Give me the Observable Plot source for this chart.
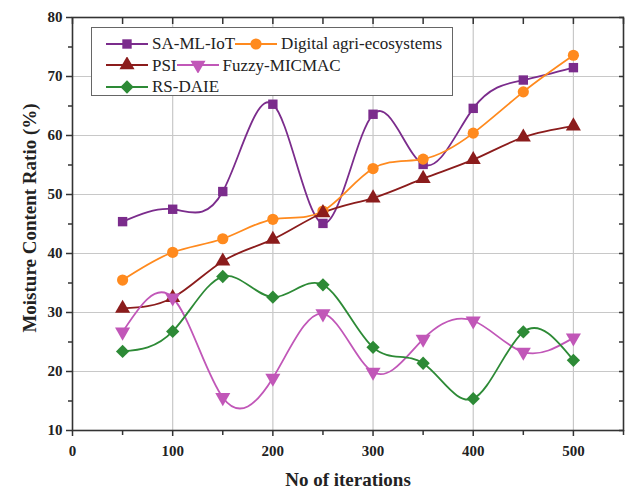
<!DOCTYPE html>
<html>
<head>
<meta charset="utf-8">
<script src="https://cdn.jsdelivr.net/npm/d3@7"></script>
<script src="https://cdn.jsdelivr.net/npm/@observablehq/plot@0.6"></script>
<style>
  body { margin: 0; background: #fff; }
  #wrap { position: relative; width: 633px; height: 490px; }
  #legend {
    position: absolute; left: 91px; top: 27px; width: 362px; height: 69px;
    border: 1px solid #666; background: #fff; box-sizing: border-box;
    font-family: "Liberation Serif", "Times New Roman", serif; font-size: 17px; color: #222;
    padding: 5px 0 0 14px;
  }
  .row { display: flex; align-items: center; height: 21.5px; white-space: nowrap; }
  .row svg { display: block; flex: none; }
  .row span { margin-left: 4px; line-height: 1; }
</style>
</head>
<body>
<div id="wrap"><div id="chart"></div><div id="legend"></div></div>
<script>
const iterations = [50, 100, 150, 200, 250, 300, 350, 400, 450, 500];
const seriesNames = ["SA-ML-IoT", "Digital agri-ecosystems", "PSI", "Fuzzy-MICMAC", "RS-DAIE"];
const saMlIot   = [45.4, 47.5, 50.5, 65.3, 45.1, 63.6, 55.1, 64.6, 69.4, 71.5];
const digital   = [35.5, 40.2, 42.5, 45.8, 47.2, 54.4, 56.0, 60.4, 67.4, 73.6];
const psi       = [30.7, 32.5, 38.7, 42.4, 46.9, 49.4, 52.7, 55.9, 59.7, 61.6];
const fuzzy     = [26.7, 32.5, 15.6, 18.9, 29.8, 19.9, 25.5, 28.6, 23.3, 25.7];
const rsDaie    = [23.4, 26.8, 36.1, 32.6, 34.7, 24.1, 21.4, 15.4, 26.7, 21.9];
const xTicks = [0, 100, 200, 300, 400, 500];
const yTicks = [10, 20, 30, 40, 50, 60, 70, 80];

const values = [saMlIot, digital, psi, fuzzy, rsDaie];
const colors = ["#7b2c8c", "#ff8a1e", "#8b1c1c", "#c157b8", "#2d8a36"];
const symbols = ["square", "circle", "triangle", "triangle", "square"];
const rotations = [0, 0, 0, 180, 45];
const radii = [5.3, 5.6, 5.6, 5.6, 5.3];

const data = [];
seriesNames.forEach((s, i) => iterations.forEach((x, j) => data.push({series: s, idx: i, x, y: values[i][j]})));

const font = "'Liberation Serif', 'Times New Roman', serif";

const marks = [
  Plot.gridX(xTicks.slice(1), {stroke: "#c8c8c8", strokeOpacity: 1, strokeWidth: 1.2}),
  Plot.gridY(yTicks.slice(1, -1), {stroke: "#c8c8c8", strokeOpacity: 1, strokeWidth: 1.2}),
  Plot.axisX(xTicks, {tickSize: 6, tickPadding: 9, fontSize: 15, fontWeight: "bold", label: null, stroke: "#333", strokeWidth: 1.5, fill: "#222"}),
  Plot.axisX(d3.range(50, 551, 100), {tickSize: 5, text: null, label: null, stroke: "#333", strokeWidth: 1.5}),
  Plot.axisX(d3.range(0, 551, 50), {anchor: "top", tickSize: -6, text: null, label: null, stroke: "#333", strokeWidth: 1.5}),
  Plot.axisY(yTicks, {tickSize: 6, tickPadding: 4, fontSize: 15, fontWeight: "bold", label: null, stroke: "#333", strokeWidth: 1.5, fill: "#222"}),
  Plot.axisY(d3.range(15, 80, 10), {tickSize: 4, text: null, label: null, stroke: "#333", strokeWidth: 1.5}),
  Plot.axisY(d3.range(10, 81, 5), {anchor: "right", tickSize: -5, text: null, label: null, stroke: "#333", strokeWidth: 1.5}),
  Plot.frame({stroke: "#333", strokeWidth: 1.6}),
];
seriesNames.forEach((s, i) => {
  const d = data.filter(r => r.idx === i);
  marks.push(Plot.line(d, {x: "x", y: "y", stroke: colors[i], strokeWidth: 1.8, curve: "natural"}));
});
seriesNames.forEach((s, i) => {
  const d = data.filter(r => r.idx === i);
  marks.push(Plot.dot(d, {x: "x", y: "y", fill: colors[i], stroke: "none", symbol: symbols[i], r: radii[i], rotate: rotations[i]}));
});
marks.push(Plot.text(["No of iterations"], {frameAnchor: "bottom", dy: 49, fontSize: 19, fontWeight: "bold", fill: "#222", lineAnchor: "middle", textAnchor: "middle"}));
marks.push(Plot.text(["Moisture Content Ratio (%)"], {frameAnchor: "left", dx: -43, dy: -6, rotate: -90, fontSize: 19, fontWeight: "bold", fill: "#222", lineAnchor: "middle", textAnchor: "middle"}));

const chart = Plot.plot({
  width: 633, height: 490,
  marginLeft: 72, marginRight: 10, marginTop: 17, marginBottom: 60,
  x: {domain: [0, 550]},
  y: {domain: [10, 80]},
  style: {fontFamily: font, background: "#fff", overflow: "visible"},
  marks
});
document.getElementById("chart").appendChild(chart);

// Legend
const legend = d3.select("#legend");
const rows = [[0, 1], [2, 3], [4]];
const symMap = {square: d3.symbolSquare, circle: d3.symbolCircle, triangle: d3.symbolTriangle};
rows.forEach(r => {
  const row = legend.append("div").attr("class", "row");
  r.forEach(i => {
    const svg = row.append("svg").attr("width", 42).attr("height", 16);
    svg.append("line").attr("x1", 0).attr("x2", 42).attr("y1", 8).attr("y2", 8).attr("stroke", colors[i]).attr("stroke-width", 1.8);
    svg.append("path").attr("d", d3.symbol(symMap[symbols[i]], radii[i] * radii[i] * Math.PI)())
      .attr("transform", `translate(21,8) rotate(${rotations[i]})`).attr("fill", colors[i]);
    row.append("span").text(seriesNames[i]);
  });
});
</script>
</body>
</html>
